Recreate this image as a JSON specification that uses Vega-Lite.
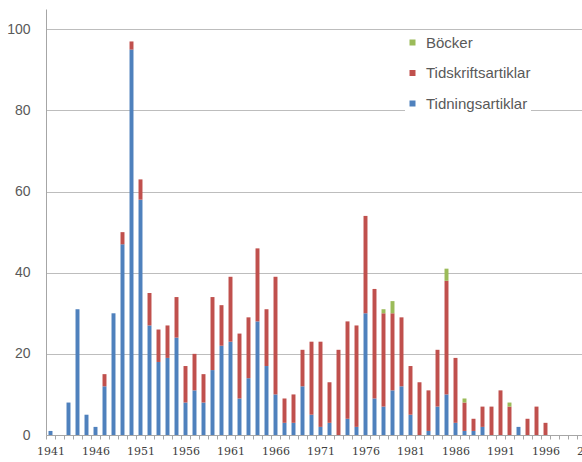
{
  "$schema": "https://vega.github.io/schema/vega-lite/v6.json",
  "width": 558,
  "height": 426,
  "autosize": {"type": "none"},
  "padding": {"left": 46, "top": 9, "right": 0, "bottom": 27},
  "background": "white",
  "config": {"view": {"stroke": null}, "font": "Liberation Sans"},
  "data": {"values": [
    {"year": 1941, "typ": "Tidningsartiklar", "n": 1},
    {"year": 1943, "typ": "Tidningsartiklar", "n": 8},
    {"year": 1944, "typ": "Tidningsartiklar", "n": 31},
    {"year": 1945, "typ": "Tidningsartiklar", "n": 5},
    {"year": 1946, "typ": "Tidningsartiklar", "n": 2},
    {"year": 1947, "typ": "Tidningsartiklar", "n": 12}, {"year": 1947, "typ": "Tidskriftsartiklar", "n": 3},
    {"year": 1948, "typ": "Tidningsartiklar", "n": 30},
    {"year": 1949, "typ": "Tidningsartiklar", "n": 47}, {"year": 1949, "typ": "Tidskriftsartiklar", "n": 3},
    {"year": 1950, "typ": "Tidningsartiklar", "n": 95}, {"year": 1950, "typ": "Tidskriftsartiklar", "n": 2},
    {"year": 1951, "typ": "Tidningsartiklar", "n": 58}, {"year": 1951, "typ": "Tidskriftsartiklar", "n": 5},
    {"year": 1952, "typ": "Tidningsartiklar", "n": 27}, {"year": 1952, "typ": "Tidskriftsartiklar", "n": 8},
    {"year": 1953, "typ": "Tidningsartiklar", "n": 18}, {"year": 1953, "typ": "Tidskriftsartiklar", "n": 8},
    {"year": 1954, "typ": "Tidningsartiklar", "n": 19}, {"year": 1954, "typ": "Tidskriftsartiklar", "n": 8},
    {"year": 1955, "typ": "Tidningsartiklar", "n": 24}, {"year": 1955, "typ": "Tidskriftsartiklar", "n": 10},
    {"year": 1956, "typ": "Tidningsartiklar", "n": 8}, {"year": 1956, "typ": "Tidskriftsartiklar", "n": 9},
    {"year": 1957, "typ": "Tidningsartiklar", "n": 11}, {"year": 1957, "typ": "Tidskriftsartiklar", "n": 9},
    {"year": 1958, "typ": "Tidningsartiklar", "n": 8}, {"year": 1958, "typ": "Tidskriftsartiklar", "n": 7},
    {"year": 1959, "typ": "Tidningsartiklar", "n": 16}, {"year": 1959, "typ": "Tidskriftsartiklar", "n": 18},
    {"year": 1960, "typ": "Tidningsartiklar", "n": 22}, {"year": 1960, "typ": "Tidskriftsartiklar", "n": 10},
    {"year": 1961, "typ": "Tidningsartiklar", "n": 23}, {"year": 1961, "typ": "Tidskriftsartiklar", "n": 16},
    {"year": 1962, "typ": "Tidningsartiklar", "n": 9}, {"year": 1962, "typ": "Tidskriftsartiklar", "n": 16},
    {"year": 1963, "typ": "Tidningsartiklar", "n": 14}, {"year": 1963, "typ": "Tidskriftsartiklar", "n": 15},
    {"year": 1964, "typ": "Tidningsartiklar", "n": 28}, {"year": 1964, "typ": "Tidskriftsartiklar", "n": 18},
    {"year": 1965, "typ": "Tidningsartiklar", "n": 17}, {"year": 1965, "typ": "Tidskriftsartiklar", "n": 14},
    {"year": 1966, "typ": "Tidningsartiklar", "n": 10}, {"year": 1966, "typ": "Tidskriftsartiklar", "n": 29},
    {"year": 1967, "typ": "Tidningsartiklar", "n": 3}, {"year": 1967, "typ": "Tidskriftsartiklar", "n": 6},
    {"year": 1968, "typ": "Tidningsartiklar", "n": 3}, {"year": 1968, "typ": "Tidskriftsartiklar", "n": 7},
    {"year": 1969, "typ": "Tidningsartiklar", "n": 12}, {"year": 1969, "typ": "Tidskriftsartiklar", "n": 9},
    {"year": 1970, "typ": "Tidningsartiklar", "n": 5}, {"year": 1970, "typ": "Tidskriftsartiklar", "n": 18},
    {"year": 1971, "typ": "Tidningsartiklar", "n": 2}, {"year": 1971, "typ": "Tidskriftsartiklar", "n": 21},
    {"year": 1972, "typ": "Tidningsartiklar", "n": 3}, {"year": 1972, "typ": "Tidskriftsartiklar", "n": 10},
    {"year": 1973, "typ": "Tidskriftsartiklar", "n": 21},
    {"year": 1974, "typ": "Tidningsartiklar", "n": 4}, {"year": 1974, "typ": "Tidskriftsartiklar", "n": 24},
    {"year": 1975, "typ": "Tidningsartiklar", "n": 2}, {"year": 1975, "typ": "Tidskriftsartiklar", "n": 25},
    {"year": 1976, "typ": "Tidningsartiklar", "n": 30}, {"year": 1976, "typ": "Tidskriftsartiklar", "n": 24},
    {"year": 1977, "typ": "Tidningsartiklar", "n": 9}, {"year": 1977, "typ": "Tidskriftsartiklar", "n": 27},
    {"year": 1978, "typ": "Tidningsartiklar", "n": 7}, {"year": 1978, "typ": "Tidskriftsartiklar", "n": 23}, {"year": 1978, "typ": "Böcker", "n": 1},
    {"year": 1979, "typ": "Tidningsartiklar", "n": 11}, {"year": 1979, "typ": "Tidskriftsartiklar", "n": 19}, {"year": 1979, "typ": "Böcker", "n": 3},
    {"year": 1980, "typ": "Tidningsartiklar", "n": 12}, {"year": 1980, "typ": "Tidskriftsartiklar", "n": 17},
    {"year": 1981, "typ": "Tidningsartiklar", "n": 5}, {"year": 1981, "typ": "Tidskriftsartiklar", "n": 12},
    {"year": 1982, "typ": "Tidskriftsartiklar", "n": 13},
    {"year": 1983, "typ": "Tidningsartiklar", "n": 1}, {"year": 1983, "typ": "Tidskriftsartiklar", "n": 10},
    {"year": 1984, "typ": "Tidningsartiklar", "n": 7}, {"year": 1984, "typ": "Tidskriftsartiklar", "n": 14},
    {"year": 1985, "typ": "Tidningsartiklar", "n": 10}, {"year": 1985, "typ": "Tidskriftsartiklar", "n": 28}, {"year": 1985, "typ": "Böcker", "n": 3},
    {"year": 1986, "typ": "Tidningsartiklar", "n": 3}, {"year": 1986, "typ": "Tidskriftsartiklar", "n": 16},
    {"year": 1987, "typ": "Tidningsartiklar", "n": 1}, {"year": 1987, "typ": "Tidskriftsartiklar", "n": 7}, {"year": 1987, "typ": "Böcker", "n": 1},
    {"year": 1988, "typ": "Tidningsartiklar", "n": 1}, {"year": 1988, "typ": "Tidskriftsartiklar", "n": 3},
    {"year": 1989, "typ": "Tidningsartiklar", "n": 2}, {"year": 1989, "typ": "Tidskriftsartiklar", "n": 5},
    {"year": 1990, "typ": "Tidskriftsartiklar", "n": 7},
    {"year": 1991, "typ": "Tidskriftsartiklar", "n": 11},
    {"year": 1992, "typ": "Tidskriftsartiklar", "n": 7}, {"year": 1992, "typ": "Böcker", "n": 1},
    {"year": 1993, "typ": "Tidningsartiklar", "n": 2},
    {"year": 1994, "typ": "Tidskriftsartiklar", "n": 4},
    {"year": 1995, "typ": "Tidskriftsartiklar", "n": 7},
    {"year": 1996, "typ": "Tidskriftsartiklar", "n": 3}
  ]},
  "transform": [
    {"calculate": "indexof(['Tidningsartiklar','Tidskriftsartiklar','Böcker'], datum.typ)", "as": "ord"}
  ],
  "mark": {"type": "bar"},
  "encoding": {
    "x": {
      "field": "year",
      "type": "ordinal",
      "scale": {
        "domain": [1941,1942,1943,1944,1945,1946,1947,1948,1949,1950,1951,1952,1953,1954,1955,1956,1957,1958,1959,1960,1961,1962,1963,1964,1965,1966,1967,1968,1969,1970,1971,1972,1973,1974,1975,1976,1977,1978,1979,1980,1981,1982,1983,1984,1985,1986,1987,1988,1989,1990,1991,1992,1993,1994,1995,1996,1997,1998,1999,2000,2001,2002],
        "paddingInner": 0.56,
        "paddingOuter": 0.28
      },
      "axis": {
        "title": null,
        "labelExpr": "(datum.value - 1941) % 5 == 0 ? datum.value : ''",
        "labelAngle": 0,
        "labelOverlap": false,
        "labelFont": "DejaVu Serif",
        "labelFontSize": 11,
        "labelColor": "#404040",
        "labelPadding": 6,
        "tickSize": 4,
        "tickColor": "#a6a6a6",
        "tickOffset": -4.5,
        "labelOffset": 4.5,
        "domainColor": "#a6a6a6",
        "grid": false
      }
    },
    "y": {
      "field": "n",
      "type": "quantitative",
      "stack": "zero",
      "scale": {"domain": [0, 105], "nice": false},
      "axis": {
        "title": null,
        "values": [0, 20, 40, 60, 80, 100],
        "grid": true,
        "gridColor": "#bdbdbd",
        "ticks": false,
        "labelPadding": 16,
        "labelFont": "Liberation Sans",
        "labelFontSize": 14,
        "labelColor": "#595959",
        "domainColor": "#a6a6a6"
      }
    },
    "color": {
      "field": "typ",
      "type": "nominal",
      "scale": {
        "domain": ["Böcker", "Tidskriftsartiklar", "Tidningsartiklar"],
        "range": ["#9bbb59", "#c0504d", "#4f81bd"]
      },
      "legend": {
        "title": null,
        "orient": "none",
        "legendX": 359,
        "legendY": 26,
        "symbolType": "square",
        "symbolSize": 36,
        "labelFont": "Liberation Sans",
        "labelFontSize": 15,
        "labelColor": "#595959",
        "labelOffset": 6,
        "rowPadding": 14.5,
        "padding": 0,
        "fillColor": "white"
      }
    },
    "order": {"field": "ord", "type": "quantitative"}
  }
}
